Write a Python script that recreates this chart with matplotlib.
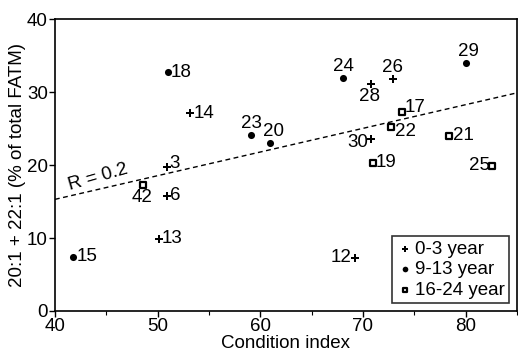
import matplotlib
matplotlib.use("Agg")
import matplotlib.pyplot as plt
import numpy as np

plt.rcParams['font.family'] = ['Liberation Sans', 'DejaVu Sans']

# Data
labels = ["18", "14", "3", "6", "42", "13", "15", "23", "20", "24", "28", "26",
          "29", "17", "22", "21", "30", "19", "25", "12"]
cond_index = [51.0, 53.2, 50.9, 50.9, 48.6, 50.1, 41.8, 59.1, 60.9, 68.1, 70.8, 72.9,
              80.0, 73.8, 72.7, 78.4, 70.8, 71.0, 82.6, 69.2]
fatm = [32.7, 27.1, 19.7, 15.8, 17.3, 9.9, 7.4, 24.1, 23.0, 31.9, 31.1, 31.8,
        34.0, 27.3, 25.2, 24.0, 23.6, 20.3, 19.9, 7.3]
group = ["9-13", "0-3", "0-3", "0-3", "16-24", "0-3", "9-13", "9-13", "9-13", "9-13", "0-3", "0-3",
         "9-13", "16-24", "16-24", "16-24", "0-3", "16-24", "16-24", "0-3"]
group_names = ["0-3", "9-13", "16-24"]
trend_x = [40, 85]
trend_y = [15.3, 29.9]
r_text = "R = 0.2"

FS = 13.5

# label placement (offset in points, ha, va)
place = {
    "18": ((2, 0), "left", "center"), "14": ((2, 0), "left", "center"),
    "3": ((2, 3), "left", "center"), "6": ((2, 0), "left", "center"),
    "42": ((-1, -3), "center", "top"), "13": ((2, 0), "left", "center"),
    "15": ((2, 0), "left", "center"), "23": ((0, 2), "center", "bottom"),
    "20": ((3, 2), "center", "bottom"), "24": ((0, 2), "center", "bottom"),
    "28": ((-1, -3), "center", "top"), "26": ((0, 2), "center", "bottom"),
    "29": ((2, 2), "center", "bottom"), "17": ((2, 3), "left", "center"),
    "22": ((3, -3), "left", "center"), "21": ((3, 0), "left", "center"),
    "30": ((-2, -3), "right", "center"), "19": ((2, 0), "left", "center"),
    "25": ((-2, 0), "right", "center"), "12": ((-2, 0), "right", "center"),
}

styles = {
    "0-3": dict(marker="P", s=30, facecolor="black", edgecolor="black", linewidths=0),
    "9-13": dict(marker="o", s=26, facecolor="black", edgecolor="black", linewidths=0),
    "16-24": dict(marker="s", s=18, facecolor="white", edgecolor="black", linewidths=1.6),
}

fig = plt.figure(figsize=(5.18, 3.55), dpi=100)
ax = fig.add_axes([0.106, 0.124, 0.892, 0.822])

ax.plot(trend_x, trend_y, linestyle=(0, (3.5, 2.5)), color="black", linewidth=1.0, zorder=1)

x = np.array(cond_index)
y = np.array(fatm)
g = np.array(group)
for name in group_names:
    m = g == name
    ax.scatter(x[m], y[m], label=f"{name} year", zorder=3, **styles[name])

for lab, xi, yi in zip(labels, cond_index, fatm):
    (dx, dy), ha, va = place[lab]
    ax.annotate(lab, (xi, yi), xytext=(dx, dy), textcoords="offset points",
                ha=ha, va=va, fontsize=FS)

ax.text(41.5, 16.6, r_text, rotation=16, fontsize=FS, ha="left", va="baseline",
        rotation_mode="anchor")

ax.set_xlim(40, 85)
ax.set_ylim(0, 40)
ax.set_xticks([40, 50, 60, 70, 80])
ax.set_xticks([45, 55, 65, 75, 85], minor=True)
ax.set_yticks([0, 10, 20, 30, 40])
ax.tick_params(axis="both", which="major", labelsize=FS, length=4, width=1, direction="out", pad=1)
ax.tick_params(axis="x", which="minor", length=3, width=0.8)
for sp in ax.spines.values():
    sp.set_linewidth(1.2)

ax.set_xlabel("Condition index", fontsize=FS, labelpad=0)
ax.set_ylabel("20:1 + 22:1 (% of total FATM)", fontsize=FS, labelpad=1)

leg = ax.legend(loc="lower right", fontsize=FS, frameon=True, fancybox=False,
                edgecolor="black", handletextpad=0.15, handlelength=0.8,
                borderpad=0.25, labelspacing=0.18, borderaxespad=0.4, markerscale=0.8)
leg.get_frame().set_linewidth(1.2)

fig.savefig("out.png", dpi=100)
